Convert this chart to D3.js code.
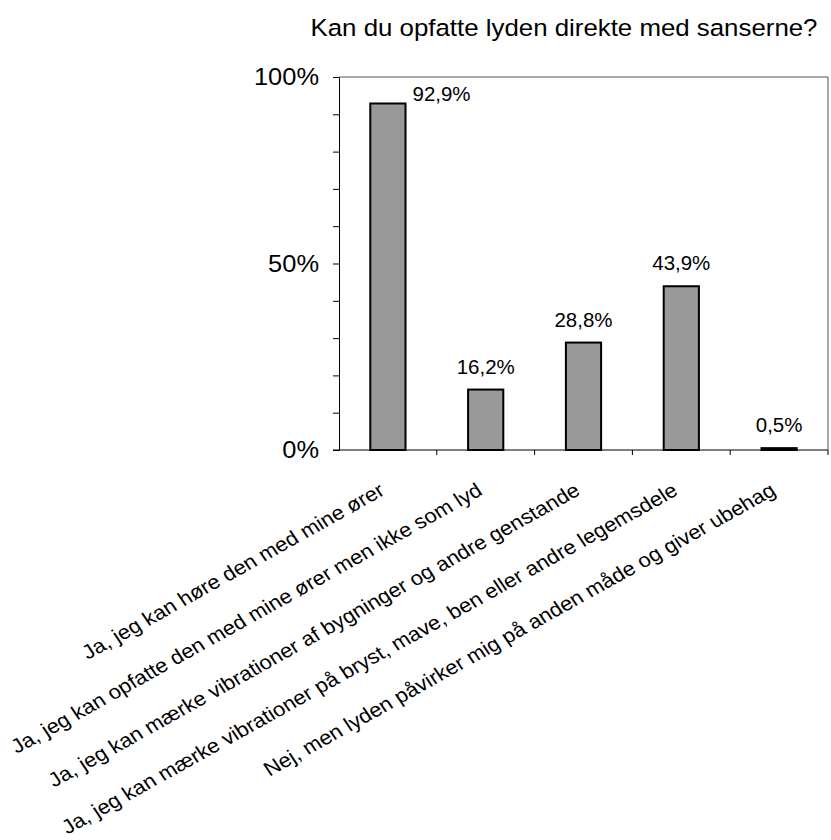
<!DOCTYPE html>
<html>
<head>
<meta charset="utf-8">
<script src="https://cdn.jsdelivr.net/npm/d3@7"></script>
<style>
  html, body { margin: 0; padding: 0; background: #fff; }
  svg { display: block; font-family: Arial, "Liberation Sans", sans-serif; }
</style>
</head>
<body>
<svg id="chart" width="831" height="840"></svg>
<script>
const title = "Kan du opfatte lyden direkte med sanserne?";
const categories = [
  "Ja, jeg kan høre den med mine ører",
  "Ja, jeg kan opfatte den med mine ører men ikke som lyd",
  "Ja, jeg kan mærke vibrationer af bygninger og andre genstande",
  "Ja, jeg kan mærke vibrationer på bryst, mave, ben eller andre legemsdele",
  "Nej, men lyden påvirker mig på anden måde og giver ubehag"
];
const values = [0.929, 0.162, 0.288, 0.439, 0.005];
const valueLabels = ["92,9%", "16,2%", "28,8%", "43,9%", "0,5%"];
const yTicks = [0, 0.1, 0.2, 0.3, 0.4, 0.5, 0.6, 0.7, 0.8, 0.9, 1.0];
const yTickLabels = { 0: "0%", 0.5: "50%", 1: "100%" };

const svg = d3.select("#chart");
const plot = { left: 339, right: 828, top: 77, bottom: 450 };

const x = d3.scaleBand()
  .domain(categories)
  .range([plot.left, plot.right])
  .paddingInner(0.64)
  .paddingOuter(0.32);

const y = d3.scaleLinear().domain([0, 1]).range([plot.bottom, plot.top]);

// plot area frame (top and right)
svg.append("path")
  .attr("d", `M${plot.left},${plot.top}H${plot.right}V${plot.bottom}`)
  .attr("fill", "none")
  .attr("stroke", "#555")
  .attr("stroke-width", 1);

// Y axis
const yAxis = svg.append("g")
  .attr("transform", `translate(${plot.left},0)`)
  .call(d3.axisLeft(y)
    .tickValues(yTicks)
    .tickSize(6)
    .tickSizeOuter(0)
    .tickPadding(14)
    .tickFormat(d => yTickLabels[Math.round(d * 10) / 10] || ""));
yAxis.select(".domain").attr("stroke", "#000");
yAxis.selectAll(".tick line").attr("stroke", "#000");
yAxis.selectAll(".tick text")
  .attr("font-size", 24)
  .attr("fill", "#000")
  .attr("dy", "0.33em")
  .attr("font-family", "Arial, 'Liberation Sans', sans-serif")
  .each(function () {
    const t = d3.select(this);
    const xx = +t.attr("x");
    t.attr("x", null).attr("transform", `translate(${xx},0) scale(1.06,1)`);
  });

// X axis line and boundary ticks
const step = x.step();
const boundaries = d3.range(categories.length + 1).map(i => plot.left + i * step);
svg.append("line")
  .attr("x1", plot.left - 6).attr("x2", plot.right)
  .attr("y1", plot.bottom).attr("y2", plot.bottom)
  .attr("stroke", "#000");
svg.selectAll(".xtick").data(boundaries.slice(1)).enter().append("line")
  .attr("class", "xtick")
  .attr("x1", d => d).attr("x2", d => d)
  .attr("y1", plot.bottom).attr("y2", plot.bottom + 5)
  .attr("stroke", "#000");

// Bars
svg.selectAll(".bar").data(values).enter().append("rect")
  .attr("class", "bar")
  .attr("x", (d, i) => x(categories[i]))
  .attr("width", x.bandwidth())
  .attr("y", d => y(d))
  .attr("height", d => y(0) - y(d))
  .attr("fill", "#999999")
  .attr("stroke", "#000")
  .attr("stroke-width", 2);

// Value labels
svg.selectAll(".vlabel").data(values).enter().append("text")
  .attr("class", "vlabel")
  .attr("font-size", 19.5)
  .attr("fill", "#000")
  .attr("text-anchor", (d, i) => (y(d) - 30 < plot.top ? "start" : "middle"))
  .attr("transform", (d, i) => {
    const cx = x(categories[i]) + x.bandwidth() / 2;
    if (y(d) - 30 < plot.top) {
      return `translate(${x(categories[i]) + x.bandwidth() + 7},${y(d) - 2.5}) scale(1.05,1)`;
    }
    return `translate(${cx},${y(d) - 16}) scale(1.05,1)`;
  })
  .text((d, i) => valueLabels[i]);

// Category labels (rotated)
svg.selectAll(".clabel").data(categories).enter().append("text")
  .attr("class", "clabel")
  .attr("font-size", 20)
  .attr("fill", "#000")
  .attr("text-anchor", "end")
  .attr("transform", d => `translate(${x(d) + x.bandwidth() / 2 - 2},494) scale(1.1,1) rotate(-31.5)`)
  .text(d => d);

// Title
svg.append("text")
  .attr("font-size", 23.5)
  .attr("fill", "#000")
  .attr("text-anchor", "middle")
  .attr("transform", "translate(564,36) scale(1.1,1)")
  .text(title);
</script>
</body>
</html>
